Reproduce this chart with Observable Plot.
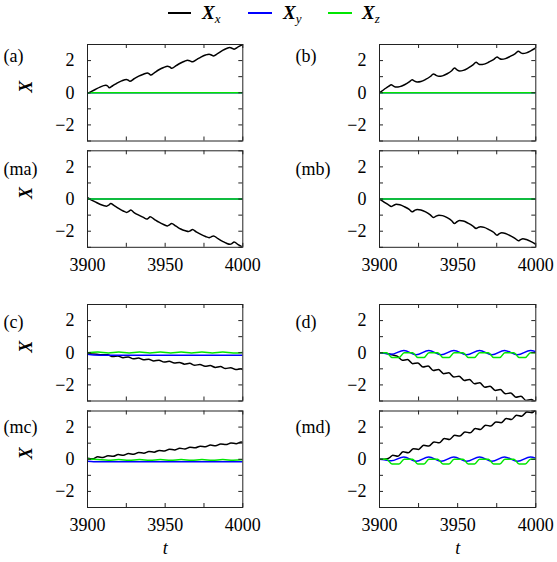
<!DOCTYPE html>
<html><head><meta charset="utf-8">
<script src="https://cdn.jsdelivr.net/npm/d3@7"></script>
<script src="https://cdn.jsdelivr.net/npm/@observablehq/plot@0.6"></script>
<style>
body{margin:0;background:#fff;}
#wrap{position:relative;width:557px;height:562px;font-family:"Liberation Serif","Times New Roman","DejaVu Serif",serif;overflow:hidden;}
.pl{position:absolute;}
.sw{position:absolute;height:2px;}
.lx{position:absolute;font-size:19px;line-height:19px;white-space:nowrap;}
.lx sub{font-size:13px;vertical-align:-4px;}
</style></head><body>
<div id="wrap">
  <div class="sw" style="left:168px;top:12px;width:23px;background:#000"></div>
  <div class="lx" style="left:202px;top:3px"><b><i>X</i></b><sub><i>x</i></sub></div>
  <div class="sw" style="left:248px;top:12px;width:24px;background:#0000ff"></div>
  <div class="lx" style="left:283px;top:3px"><b><i>X</i></b><sub><i>y</i></sub></div>
  <div class="sw" style="left:328px;top:12px;width:24px;background:#00e600"></div>
  <div class="lx" style="left:362px;top:3px"><b><i>X</i></b><sub><i>z</i></sub></div>
</div>
<script>
// ---- data (t = time) ----
const zeroT = [3900, 4000];
const zeroV = [0, 0];

// (a) X_x
const aT = [3900,3902,3905,3908,3911.8,3913,3914,3916,3919,3922,3925.1,3926.3,3927.3,3930,3933,3936,3938.6,3939.8,3940.8,3943,3946,3949,3951.5,3953,3954.3,3957,3960,3962.5,3964.4,3966,3967.6,3970,3973,3976,3978.3,3979.8,3981.1,3984,3987,3989.5,3991.6,3993,3994.4,3997,4000];
const aX = [-0.05,0.05,0.2,0.35,0.46,0.42,0.31,0.42,0.6,0.74,0.83,0.78,0.71,0.87,1.03,1.15,1.23,1.17,1.10,1.24,1.43,1.57,1.65,1.6,1.52,1.68,1.85,1.96,2.02,1.98,1.92,2.05,2.22,2.35,2.40,2.35,2.29,2.45,2.63,2.75,2.81,2.77,2.71,2.85,3.0];

// (ma) X_x
const maT = [3900,3902,3905,3908,3912.4,3913.6,3915,3917,3920,3923,3925.3,3926.6,3927.9,3930,3933,3936,3938.2,3939.3,3940.3,3943,3946,3949,3951.5,3952.8,3954.1,3957,3960,3963,3965,3966.3,3967.6,3970,3973,3976,3978.3,3979.7,3981.1,3984,3987,3989.5,3991.8,3993.1,3994.4,3997,4000];
const maX = [0.08,-0.03,-0.18,-0.32,-0.44,-0.38,-0.28,-0.4,-0.58,-0.74,-0.83,-0.77,-0.68,-0.84,-1.0,-1.14,-1.24,-1.18,-1.1,-1.26,-1.44,-1.58,-1.67,-1.61,-1.52,-1.69,-1.86,-1.97,-2.02,-1.97,-1.89,-2.04,-2.2,-2.33,-2.4,-2.35,-2.29,-2.46,-2.63,-2.75,-2.81,-2.76,-2.67,-2.84,-3.0];

// (b) and (mb) X_x
const bT = [3900,3902,3904,3906,3907.5,3909,3910.7,3913,3916,3919,3920.9,3922.4,3924.1,3926.5,3929.5,3932.5,3934.5,3936.2,3938,3940.3,3943.3,3946.2,3948,3949.6,3951.2,3953.6,3956.6,3959.8,3961.8,3963.2,3964.6,3967,3970,3973.2,3975.2,3976.7,3978.2,3980.6,3983.6,3986.9,3988.9,3990.3,3991.7,3994,3997,4000];
const bX = [0,0.14,0.28,0.41,0.5,0.41,0.35,0.38,0.5,0.67,0.81,0.72,0.67,0.7,0.83,1.01,1.17,1.08,1.02,1.05,1.18,1.37,1.54,1.42,1.35,1.39,1.53,1.73,1.9,1.8,1.75,1.78,1.91,2.08,2.23,2.13,2.08,2.12,2.26,2.44,2.58,2.49,2.44,2.48,2.62,2.79];
const mbX = [0,-0.13,-0.26,-0.38,-0.46,-0.39,-0.33,-0.36,-0.48,-0.64,-0.79,-0.71,-0.65,-0.68,-0.8,-0.98,-1.15,-1.06,-1.0,-1.03,-1.16,-1.35,-1.52,-1.41,-1.34,-1.37,-1.5,-1.68,-1.83,-1.76,-1.72,-1.76,-1.9,-2.08,-2.25,-2.15,-2.1,-2.14,-2.28,-2.46,-2.6,-2.52,-2.47,-2.52,-2.65,-2.81];

// (c) 
const cT = [3900,3903,3906,3909,3913,3916.3,3919.6,3922.9,3926.2,3929.5,3932.8,3936.1,3939.4,3942.7,3946,3949.3,3952.6,3955.9,3959.2,3962.5,3965.8,3969.1,3972.4,3975.7,3979,3982.3,3985.6,3988.9,3992.2,3995.5,3998.8,4000];
const cX = [-0.04,-0.07,-0.1,-0.13,-0.13,-0.24,-0.20,-0.31,-0.26,-0.38,-0.33,-0.44,-0.40,-0.51,-0.46,-0.58,-0.53,-0.64,-0.60,-0.71,-0.66,-0.78,-0.73,-0.84,-0.80,-0.91,-0.86,-0.98,-0.93,-1.04,-1.00,-1.05];
const cyT = [3900,3904,3910,3920,3935,3950,3965,3980,4000];
const cY = [-0.1,-0.14,-0.15,-0.16,-0.15,-0.16,-0.15,-0.16,-0.15];
const czT = [3900,3906.7,3913.4,3920.1,3926.8,3933.5,3940.2,3946.9,3953.6,3960.3,3967,3973.7,3980.4,3987.1,3993.8,4000];
const cZ = [0,0.04,-0.02,0.04,-0.02,0.04,-0.02,0.04,-0.02,0.04,-0.02,0.04,-0.02,0.04,-0.02,0.02];

// (mc)
const mcT = [3900,3903.3,3906.6,3909.9,3913.2,3916.5,3919.8,3923.1,3926.4,3929.7,3933,3936.3,3939.6,3942.9,3946.2,3949.5,3952.8,3956.1,3959.4,3962.7,3966,3969.3,3972.6,3975.9,3979.2,3982.5,3985.8,3989.1,3992.4,3995.7,3999,4000];
const mcX = [0.07,0.03,0.15,0.11,0.22,0.18,0.29,0.25,0.35,0.31,0.42,0.38,0.48,0.44,0.55,0.51,0.62,0.58,0.68,0.64,0.75,0.71,0.81,0.78,0.88,0.84,0.95,0.91,1.01,0.97,1.07,1.05];
const mcY = [-0.12,-0.15,-0.16,-0.15,-0.16,-0.15,-0.16,-0.15,-0.15];
const mcZ = [0.02,-0.02,-0.06,-0.02,-0.06,-0.02,-0.06,-0.02,-0.06,-0.02,-0.06,-0.02,-0.06,-0.02,-0.06,-0.03];

// (d)
const dT = [3900,3903,3905,3908,3911.3,3914.6,3917.9,3921.2,3924.5,3927.8,3931.1,3934.4,3937.7,3941,3944.3,3947.6,3950.9,3954.2,3957.5,3960.8,3964.1,3967.4,3970.7,3974,3977.3,3980.6,3983.9,3987.2,3990.5,3993.8,3997.1,4000];
const dX = [0,-0.01,-0.04,-0.13,-0.21,-0.47,-0.42,-0.68,-0.63,-0.89,-0.83,-1.10,-1.04,-1.30,-1.25,-1.51,-1.46,-1.72,-1.66,-1.93,-1.87,-2.14,-2.08,-2.34,-2.29,-2.55,-2.50,-2.76,-2.70,-2.97,-2.91,-3.1];
// (md)
const mdT = [3900,3903,3905,3906.5,3908.5,3911.8,3915.1,3918.4,3921.7,3925,3928.3,3931.6,3934.9,3938.2,3941.5,3944.8,3948.1,3951.4,3954.7,3958,3961.3,3964.6,3967.9,3971.2,3974.5,3977.8,3981.1,3984.4,3987.7,3991,3994.3,3997.6,4000];
const mdX = [0,0,0.03,0.1,0.25,0.19,0.46,0.40,0.66,0.61,0.87,0.82,1.08,1.02,1.29,1.23,1.49,1.44,1.70,1.64,1.91,1.85,2.12,2.06,2.32,2.27,2.53,2.47,2.74,2.68,2.94,2.89,3.1];
// (d), (md) X_y and X_z
const dyT = [3900,3903,3907.5,3915.6,3923.5,3931.5,3939.5,3947.6,3955.8,3964,3972,3980,3988.3,3996.6,4000];
const dY = [0,-0.03,-0.1,0.14,-0.12,0.14,-0.12,0.14,-0.12,0.14,-0.12,0.14,-0.12,0.14,0.07];
const dzT = [3900,3904.5,3908,3912.5,3915.8,3921.2,3924.5,3928.5,3931.6,3937.3,3940.6,3944.5,3947.7,3953.5,3956.8,3960.8,3964,3969.7,3973,3977,3980.2,3986,3989.3,3993.3,3996.6,4000];
const dZ = [0,0,-0.3,-0.3,0,0,-0.3,-0.3,0,0,-0.3,-0.3,0,0,-0.3,-0.3,0,0,-0.3,-0.3,0,0,-0.3,-0.3,0,0];

// ticks
const xTicks = [3900, 3925, 3950, 3975, 4000];
const xTickLabels = [3900, 3950, 4000];
const yTicks = [-3, -2, -1, 0, 1, 2, 3];
const yTickLabels = [-2, 0, 2];

const BLACK = "#000000", BLUE = "#0000ff", GREEN = "#00e600";
const FRAME = "#222";
const FONT = "'Liberation Serif', 'Times New Roman', 'DejaVu Serif', serif";
const FS = 18;

function series(T, V) { return T.map((t, i) => ({t, v: V[i]})); }
const fmt = d => d < 0 ? "\u2212" + Math.abs(d) : String(d);

const cols = [
  {left: 0, width: 270, fl: 87, fr: 242.3, lx: 3},
  {left: 277, width: 280, fl: 379, fr: 535.3, lx: 295}
];
const rows = [
  {st: 26, ft: 44, fb: 140.5, sb: 145, ly: 48.5, bottom: false},
  {st: 145, ft: 150.3, fb: 246.8, sb: 290, ly: 161.5, bottom: true},
  {st: 290, ft: 304, fb: 400.5, sb: 405, ly: 315, bottom: false},
  {st: 405, ft: 410.5, fb: 507, sb: 562, ly: 420, bottom: true}
];

const panels = [
  {r: 0, c: 0, label: "(a)", lines: [[aT, aX, BLACK], [zeroT, zeroV, BLUE], [zeroT, zeroV, GREEN]]},
  {r: 0, c: 1, label: "(b)", lines: [[bT, bX, BLACK], [zeroT, zeroV, BLUE], [zeroT, zeroV, GREEN]]},
  {r: 1, c: 0, label: "(ma)", lines: [[maT, maX, BLACK], [zeroT, zeroV, BLUE], [zeroT, zeroV, GREEN]]},
  {r: 1, c: 1, label: "(mb)", lines: [[bT, mbX, BLACK], [zeroT, zeroV, BLUE], [zeroT, zeroV, GREEN]]},
  {r: 2, c: 0, label: "(c)", lines: [[cT, cX, BLACK], [cyT, cY, BLUE], [czT, cZ, GREEN]]},
  {r: 2, c: 1, label: "(d)", lines: [[dT, dX, BLACK], [dyT, dY, BLUE], [dzT, dZ, GREEN]]},
  {r: 3, c: 0, label: "(mc)", lines: [[mcT, mcX, BLACK], [cyT, mcY, BLUE], [czT, mcZ, GREEN]]},
  {r: 3, c: 1, label: "(md)", lines: [[mdT, mdX, BLACK], [dyT, dY, BLUE], [dzT, dZ, GREEN]]}
];

const wrap = document.getElementById("wrap");
for (const p of panels) {
  const col = cols[p.c], row = rows[p.r];
  const mL = col.fl - col.left, mR = col.left + col.width - col.fr;
  const mT = row.ft - row.st, mB = row.sb - row.fb;
  const fw = col.fr - col.fl, fh = row.fb - row.ft;
  const marks = [
    ...p.lines.map(([T, V, c]) => Plot.line(series(T, V), {x: "t", y: "v", stroke: c, strokeWidth: 1.5, curve: "monotone-x", clip: true})),
    Plot.tickX(xTicks, {x: d => d, insetTop: fh - 4, stroke: FRAME}),
    Plot.tickX(xTicks, {x: d => d, insetBottom: fh - 4, stroke: FRAME}),
    Plot.tickY(yTicks, {y: d => d, insetRight: fw - 4, stroke: FRAME}),
    Plot.tickY(yTicks, {y: d => d, insetLeft: fw - 4, stroke: FRAME}),
    Plot.frame({stroke: FRAME}),
    Plot.axisY(yTickLabels, {tickSize: 0, tickPadding: 13, tickFormat: fmt, label: null, fontSize: FS, fontFamily: FONT}),
    Plot.text([p.label], {text: d => d, frameAnchor: "top-left", textAnchor: "start", dx: col.lx - col.fl, dy: row.ly - row.ft, fontSize: FS, fontFamily: FONT})
  ];
  if (p.c === 0) {
    marks.push(Plot.text(["X"], {text: d => d, frameAnchor: "left", dx: 26 - col.fl, rotate: -90, fontSize: FS, fontWeight: "bold", fontStyle: "italic", fontFamily: FONT}));
  }
  if (row.bottom) {
    marks.push(Plot.axisX(xTickLabels, {tickSize: 0, tickPadding: 11, tickFormat: d => String(d), label: null, fontSize: FS, fontFamily: FONT}));
    if (p.r === 3) {
      marks.push(Plot.text(["t"], {text: d => d, frameAnchor: "bottom", dy: 553 - row.fb, fontSize: FS, fontStyle: "italic", fontFamily: FONT}));
    }
  }
  const svg = Plot.plot({
    width: col.width,
    height: row.sb - row.st,
    marginLeft: mL, marginRight: mR, marginTop: mT, marginBottom: mB,
    x: {domain: [3900, 4000], axis: null},
    y: {domain: [-3, 3], axis: null},
    style: {background: "transparent", fontFamily: FONT, fontSize: FS + "px", color: "#000", overflow: "visible"},
    marks
  });
  const div = document.createElement("div");
  div.className = "pl";
  div.style.left = col.left + "px";
  div.style.top = row.st + "px";
  div.appendChild(svg);
  wrap.appendChild(div);
}
</script>
</body></html>
